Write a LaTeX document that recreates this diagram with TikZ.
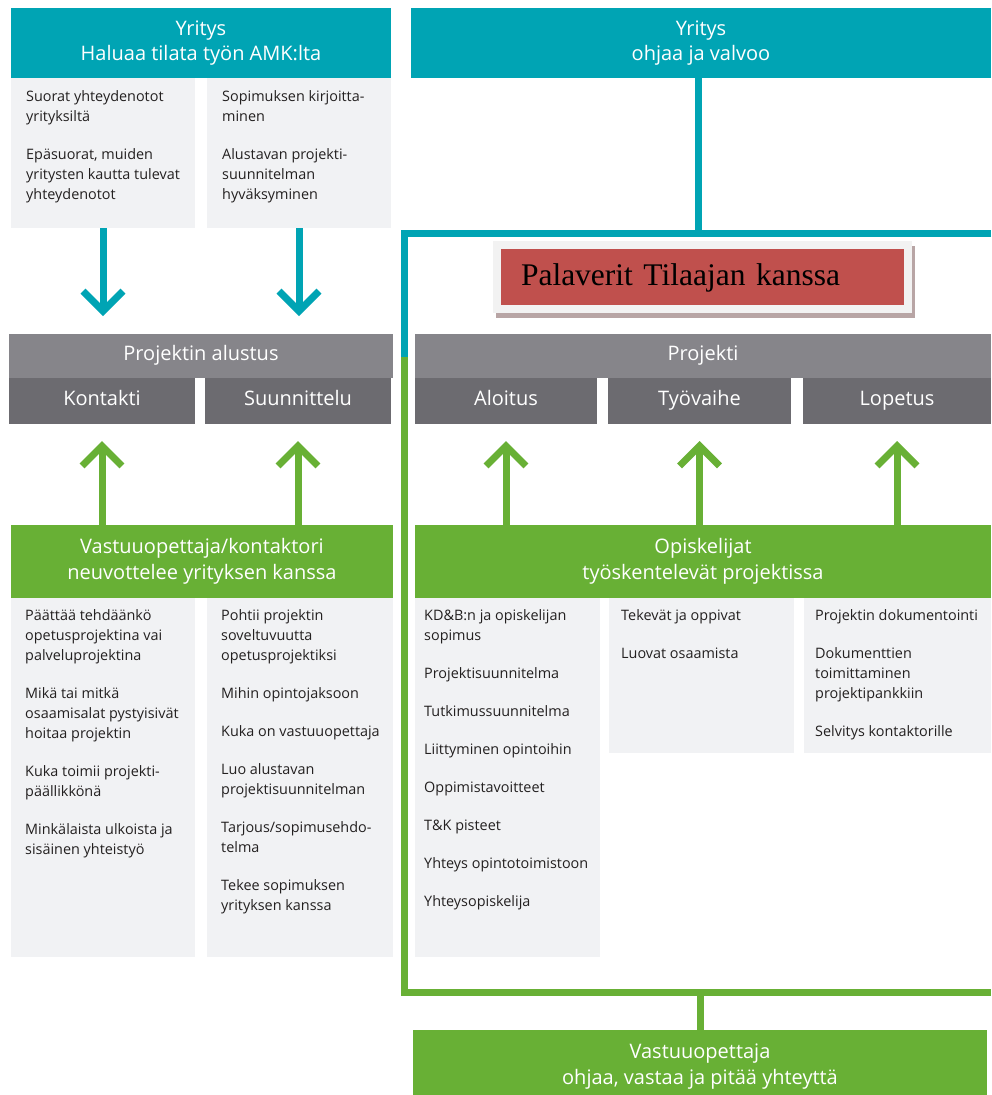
\documentclass[tikz,border=0pt]{standalone}
\usepackage{fontspec}
\setmainfont{Open Sans}
\newfontfamily\timesfont{Liberation Serif}
\usetikzlibrary{arrows.meta}
\definecolor{tealc}{RGB}{0,164,180}
\definecolor{greenc}{RGB}{104,176,53}
\definecolor{greyhead}{RGB}{134,133,138}
\definecolor{greysub}{RGB}{108,107,112}
\definecolor{greycol}{RGB}{241,242,244}
\definecolor{redc}{RGB}{192,80,77}
\definecolor{framec}{RGB}{242,242,242}
\definecolor{shadowc}{RGB}{184,165,165}
\definecolor{bodytext}{RGB}{35,32,32}
\tikzset{
  rbox/.style={anchor=north west, inner sep=0pt, outer sep=0pt, draw=none},
  headbox/.style={rbox, fill=tealc, text=white, align=center,
    font=\fontsize{20}{25}\selectfont},
  greenbox/.style={rbox, fill=greenc, text=white, align=center,
    font=\fontsize{20}{26}\selectfont},
  ghead/.style={rbox, fill=greyhead, text=white, text height=13pt, text depth=4pt,
    font=\fontsize{20}{20}\selectfont},
  gsub/.style={rbox, fill=greysub, text=white, text height=13pt, text depth=4pt,
    font=\fontsize{20}{20}\selectfont},
  colbox/.style={rbox, fill=greycol},
  coltext/.style={anchor=north west, inner sep=0pt, align=left, text=bodytext,
    font=\fontsize{14.4}{20}\selectfont},
  tealarrow/.style={draw=tealc, line width=7pt, -{Straight Barb[length=20pt,width=40pt]}, shorten >=18pt},
  greenarrow/.style={draw=greenc, line width=7pt, -{Straight Barb[length=20pt,width=40pt]}, shorten >=17pt},
  tealline/.style={draw=tealc, line width=7pt, line join=miter},
  greenline/.style={draw=greenc, line width=7pt, line join=miter},
}
\begin{document}
\begin{tikzpicture}[x=1pt,y=-1pt]
\useasboundingbox[fill=white] (0,0) rectangle (991,1095);

% top row
\node[headbox, minimum width=380pt, minimum height=70pt] (yt1) at (11,8) {Yritys\\Haluaa tilata työn AMK:lta};
\node[headbox, minimum width=580pt, minimum height=70pt] (yt2) at (411,8) {Yritys\\ohjaa ja valvoo};

\node[colbox, minimum width=184pt, minimum height=150pt] (c1a) at (11,78) {};
\node[colbox, minimum width=184pt, minimum height=150pt] (c1b) at (207,78) {};
\node[coltext] (t1a) at (26,87) {\strut Suorat yhteydenotot\\yrityksiltä\\[18pt]Epäsuorat, muiden\\yritysten kautta tulevat\\yhteydenotot};
\node[coltext] (t1b) at (222,87) {\strut Sopimuksen kirjoitta-\\minen\\[18pt]Alustavan projekti-\\suunnitelman\\hyväksyminen};

% red meeting box
\node[rbox, fill=shadowc, minimum width=419pt, minimum height=72pt] (palsh) at (496,246) {};
\node[rbox, fill=framec, minimum width=419pt, minimum height=72pt] (palfr) at (493,241) {};
\node[rbox, fill=redc, minimum width=403pt, minimum height=56pt, inner xsep=20pt,
  text width=363pt, text height=18pt, text depth=2pt, align=left,
  font=\timesfont\fontsize{31.5}{32}\selectfont] (pal) at (501,249) {Palaverit Tilaajan kanssa};

% project boxes
\node[ghead, minimum width=384pt, minimum height=44pt] (pa) at (9,334) {Projektin alustus};
\node[gsub, minimum width=186pt, minimum height=46pt] (kon) at (9,378) {Kontakti};
\node[gsub, minimum width=186pt, minimum height=46pt] (suu) at (205,378) {Suunnittelu};

\node[ghead, minimum width=576pt, minimum height=44pt] (pr) at (415,334) {Projekti};
\node[gsub, minimum width=182pt, minimum height=46pt] (alo) at (415,378) {Aloitus};
\node[gsub, minimum width=183pt, minimum height=46pt] (tyo) at (608,378) {Työvaihe};
\node[gsub, minimum width=188pt, minimum height=46pt] (lop) at (803,378) {Lopetus};

% green boxes
\node[greenbox, minimum width=382pt, minimum height=73pt] (vk) at (11,525) {Vastuuopettaja/kontaktori\\neuvottelee yrityksen kanssa};
\node[greenbox, minimum width=576pt, minimum height=73pt] (op) at (415,525) {Opiskelijat\\työskentelevät projektissa};

\node[colbox, minimum width=184pt, minimum height=359pt] (c2a) at (11,598) {};
\node[colbox, minimum width=186pt, minimum height=359pt] (c2b) at (207,598) {};
\node[colbox, minimum width=185pt, minimum height=359pt] (c3a) at (415,598) {};
\node[colbox, minimum width=185pt, minimum height=155pt] (c3b) at (609,598) {};
\node[colbox, minimum width=187pt, minimum height=155pt] (c3c) at (804,598) {};

\node[coltext] (t2a) at (25,606) {\strut Päättää tehdäänkö\\opetusprojektina vai\\palveluprojektina\\[18pt]Mikä tai mitkä\\osaamisalat pystyisivät\\hoitaa projektin\\[18pt]Kuka toimii projekti-\\päällikkönä\\[18pt]Minkälaista ulkoista ja\\sisäinen yhteistyö};
\node[coltext] (t2b) at (221,606) {\strut Pohtii projektin\\soveltuvuutta\\opetusprojektiksi\\[18pt]Mihin opintojaksoon\\[18pt]Kuka on vastuuopettaja\\[18pt]Luo alustavan\\projektisuunnitelman\\[18pt]Tarjous/sopimusehdo-\\telma\\[18pt]Tekee sopimuksen\\yrityksen kanssa};
\node[coltext] (t3a) at (424,606) {\strut KD\&B:n ja opiskelijan\\sopimus\\[18pt]Projektisuunnitelma\\[18pt]Tutkimussuunnitelma\\[18pt]Liittyminen opintoihin\\[18pt]Oppimistavoitteet\\[18pt]T\&K pisteet\\[18pt]Yhteys opintotoimistoon\\[18pt]Yhteysopiskelija};
\node[coltext] (t3b) at (621,606) {\strut Tekevät ja oppivat\\[18pt]Luovat osaamista};
\node[coltext] (t3c) at (815,606) {\strut Projektin dokumentointi\\[18pt]Dokumenttien\\toimittaminen\\projektipankkiin\\[18pt]Selvitys kontaktorille};

% bottom box
\node[greenbox, minimum width=574pt, minimum height=74pt] (vo) at (413,1030) {Vastuuopettaja\\ohjaa, vastaa ja pitää yhteyttä};

% arrows
\draw[tealarrow] (c1a.south) -- (c1a.south |- pa.north);
\draw[tealarrow] (c1b.south) -- (c1b.south |- pa.north);
\draw[greenarrow] (vk.north -| kon.south) -- (kon.south);
\draw[greenarrow] (vk.north -| suu.south) -- (suu.south);
\draw[greenarrow] (op.north -| alo.south) -- (alo.south);
\draw[greenarrow] (op.north -| tyo.south) -- (tyo.south);
\draw[greenarrow] (op.north -| lop.south) -- (lop.south);

% frame lines
\coordinate (tj) at (698,233);
\coordinate (tl) at (404,233);
\coordinate (tr) at (991,233);
\coordinate (gj) at (404,357);
\coordinate (gb) at (404,992);
\coordinate (gr) at (991,992);
\draw[tealline] (yt2.south -| tj) -- (tj);
\draw[tealline] (tr) -- (tl) -- (gj);
\draw[greenline] (gj) -- (gb) -- (gr);
\draw[greenline] (vo.north) -- (vo.north |- gb);
\end{tikzpicture}
\end{document}
